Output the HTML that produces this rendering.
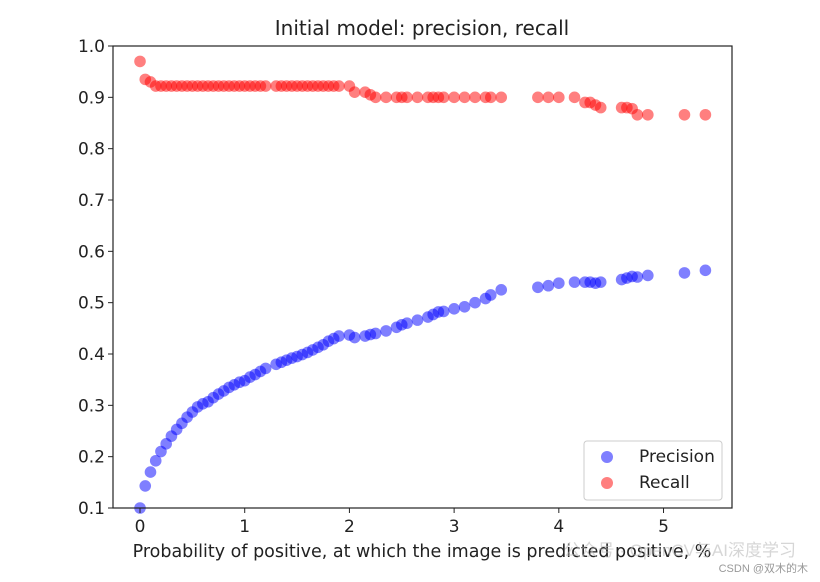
<!DOCTYPE html>
<html><head><meta charset="utf-8"><style>
body{margin:0;background:#fff;}
svg{display:block;font-family:"DejaVu Sans","Liberation Sans",sans-serif;}
</style></head><body>
<svg id="chart" width="820" height="582">
<text x="422" y="35" font-size="20" text-anchor="middle" fill="#222">Initial model: precision, recall</text>
<g id="points"></g>
<rect x="113" y="46" width="619" height="462" fill="none" stroke="#222" stroke-width="1.2"/>
<g id="yaxis"></g>
<g id="xaxis"></g>
<text x="422" y="557" font-size="17.5" text-anchor="middle" fill="#222">Probability of positive, at which the image is predicted positive, %</text>
<g>
<rect x="584" y="441" width="138" height="59" rx="3" fill="#fff" fill-opacity="0.8" stroke="#ccc"/>
<circle cx="607" cy="457" r="6" fill="#0000ff" fill-opacity="0.5"/>
<text x="639" y="462" font-size="17" fill="#222">Precision</text>
<circle cx="607" cy="483" r="6" fill="#ff0000" fill-opacity="0.5"/>
<text x="639" y="488" font-size="17" fill="#222">Recall</text>
</g>
<text x="796" y="556" font-size="17" text-anchor="end" fill="#bbb" fill-opacity="0.6" font-family="'Liberation Sans','Noto Sans CJK SC',sans-serif">公众号 · OpenCV与AI深度学习</text>
<text x="808" y="572" font-size="11" text-anchor="end" fill="#999" font-family="'Liberation Sans','Noto Sans CJK SC',sans-serif">CSDN @双木的木</text>
</svg>
<script>
const xValues=[0,0.05,0.1,0.15,0.2,0.25,0.3,0.35,0.4,0.45,0.5,0.55,0.6,0.65,0.7,0.75,0.8,0.85,0.9,0.95,1.0,1.05,1.1,1.15,1.2,1.3,1.35,1.4,1.45,1.5,1.55,1.6,1.65,1.7,1.75,1.8,1.85,1.9,2.0,2.05,2.15,2.2,2.25,2.35,2.45,2.5,2.55,2.65,2.75,2.8,2.85,2.9,3.0,3.1,3.2,3.3,3.35,3.45,3.8,3.9,4.0,4.15,4.25,4.3,4.35,4.4,4.6,4.65,4.7,4.75,4.85,5.2,5.4];
const precision=[0.10,0.143,0.17,0.192,0.21,0.225,0.24,0.253,0.265,0.277,0.287,0.297,0.303,0.307,0.315,0.322,0.328,0.335,0.34,0.345,0.348,0.355,0.36,0.366,0.372,0.38,0.384,0.388,0.392,0.395,0.399,0.403,0.408,0.413,0.418,0.425,0.43,0.435,0.437,0.432,0.435,0.438,0.44,0.445,0.452,0.457,0.46,0.466,0.472,0.477,0.482,0.483,0.488,0.492,0.5,0.508,0.515,0.525,0.53,0.533,0.538,0.54,0.54,0.54,0.538,0.54,0.545,0.548,0.551,0.55,0.553,0.558,0.563];
const recall=[0.97,0.935,0.93,0.922,0.922,0.922,0.922,0.922,0.922,0.922,0.922,0.922,0.922,0.922,0.922,0.922,0.922,0.922,0.922,0.922,0.922,0.922,0.922,0.922,0.922,0.922,0.922,0.922,0.922,0.922,0.922,0.922,0.922,0.922,0.922,0.922,0.922,0.922,0.922,0.91,0.91,0.905,0.9,0.9,0.9,0.9,0.9,0.9,0.9,0.9,0.9,0.9,0.9,0.9,0.9,0.9,0.9,0.9,0.9,0.9,0.9,0.9,0.89,0.89,0.885,0.88,0.88,0.88,0.878,0.866,0.866,0.866,0.866];
const xTicks=[0,1,2,3,4,5];
const yTicks=[0.1,0.2,0.3,0.4,0.5,0.6,0.7,0.8,0.9,1.0];
const NS='http://www.w3.org/2000/svg';
const X0=113,X1=732,Y0=46,Y1=508,xMin=-0.258,xMax=5.654,yMin=0.1,yMax=1.0;
function sx(v){return X0+(v-xMin)/(xMax-xMin)*(X1-X0);}
function sy(v){return Y1-(v-yMin)/(yMax-yMin)*(Y1-Y0);}
function mk(tag,attrs,parent){const e=document.createElementNS(NS,tag);for(const k in attrs)e.setAttribute(k,attrs[k]);parent.appendChild(e);return e;}
const pts=document.getElementById('points');
xValues.forEach((x,i)=>{
  const c=mk('circle',{cx:sx(x),cy:sy(precision[i]),r:5.8,fill:'#0000ff','fill-opacity':0.5},pts);
  
  
  const d=mk('circle',{cx:sx(x),cy:sy(recall[i]),r:5.8,fill:'#ff0000','fill-opacity':0.5},pts);
  
  
});
const ya=document.getElementById('yaxis');
yTicks.forEach(t=>{
  const l=mk('line',{x1:X0-5,x2:X0,y1:sy(t),y2:sy(t),stroke:'#222'},ya);
  
  
  const tx=mk('text',{x:X0-8,y:sy(t)+6,'font-size':17,'text-anchor':'end',fill:'#222'},ya);
  tx.textContent=t.toFixed(1);
  
  
});
const xa=document.getElementById('xaxis');
xTicks.forEach(t=>{
  const l=mk('line',{x1:sx(t),x2:sx(t),y1:Y1,y2:Y1+5,stroke:'#222'},xa);
  
  
  const tx=mk('text',{x:sx(t),y:Y1+24,'font-size':17,'text-anchor':'middle',fill:'#222'},xa);
  tx.textContent=String(t);
  
  
});
</script>
</body></html>
